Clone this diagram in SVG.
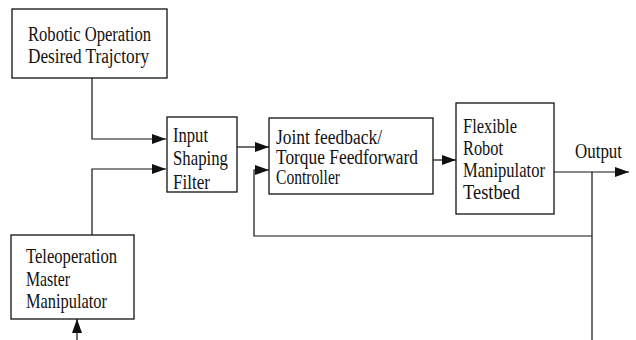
<svg xmlns="http://www.w3.org/2000/svg" width="636" height="340" viewBox="0 0 636 340">
  <style>
    .box { fill: #fff; stroke: #111; stroke-width: 1.3; }
    .wire { fill: none; stroke: #111; stroke-width: 1.2; }
    .lbl { font-family: "Liberation Serif", "DejaVu Serif", "Times New Roman", serif; font-size: 21px; fill: #111; }
    .tight { font-size: 20px; }
  </style>
  <defs>
    <marker id="arrow" viewBox="0 0 14 10" refX="14" refY="5" markerWidth="14" markerHeight="10" markerUnits="userSpaceOnUse" orient="auto">
      <path d="M0,0 L14,5 L0,10 Z" fill="#111"/>
    </marker>
  </defs>

  <rect width="636" height="340" fill="#fff"/>

  <!-- connectors -->
  <g id="connectors">
    <polyline class="wire" points="92,78 92,139 166,139" marker-end="url(#arrow)"/>
    <polyline class="wire" points="92,235 92,169 166,169" marker-end="url(#arrow)"/>
    <line class="wire" x1="237" y1="147" x2="269" y2="147" marker-end="url(#arrow)"/>
    <line class="wire" x1="433" y1="160" x2="456" y2="160" marker-end="url(#arrow)"/>
    <line class="wire" x1="554" y1="172" x2="629" y2="172" marker-end="url(#arrow)"/>
    <polyline class="wire" points="592,172 592,340"/>
    <polyline class="wire" points="592,236 254,236 254,170 269,170" marker-end="url(#arrow)"/>
    <line class="wire" x1="77" y1="340" x2="77" y2="319" marker-end="url(#arrow)"/>
  </g>

  <!-- nodes -->
  <g id="desired-trajectory">
    <rect class="box" x="12" y="9" width="155" height="69"/>
    <text class="lbl tight" x="28" y="41" textLength="123" lengthAdjust="spacingAndGlyphs">Robotic Operation</text>
    <text class="lbl tight" x="28" y="63" textLength="121" lengthAdjust="spacingAndGlyphs">Desired Trajctory</text>
  </g>

  <g id="input-shaping-filter">
    <rect class="box" x="167" y="117" width="70" height="75"/>
    <text class="lbl" x="173" y="142" textLength="35" lengthAdjust="spacingAndGlyphs">Input</text>
    <text class="lbl" x="173" y="165" textLength="55" lengthAdjust="spacingAndGlyphs">Shaping</text>
    <text class="lbl" x="173" y="189" textLength="37" lengthAdjust="spacingAndGlyphs">Filter</text>
  </g>

  <g id="controller">
    <rect class="box" x="269" y="118" width="164" height="76"/>
    <text class="lbl tight" x="276" y="144" textLength="106" lengthAdjust="spacingAndGlyphs">Joint feedback/</text>
    <text class="lbl tight" x="276" y="164" textLength="142" lengthAdjust="spacingAndGlyphs">Torque Feedforward</text>
    <text class="lbl tight" x="276" y="184" textLength="64" lengthAdjust="spacingAndGlyphs">Controller</text>
  </g>

  <g id="testbed">
    <rect class="box" x="456" y="103" width="98" height="111"/>
    <text class="lbl" x="463" y="133" textLength="54" lengthAdjust="spacingAndGlyphs">Flexible</text>
    <text class="lbl" x="463" y="155" textLength="40" lengthAdjust="spacingAndGlyphs">Robot</text>
    <text class="lbl" x="463" y="177" textLength="82" lengthAdjust="spacingAndGlyphs">Manipulator</text>
    <text class="lbl" x="463" y="199" textLength="57" lengthAdjust="spacingAndGlyphs">Testbed</text>
  </g>

  <g id="output-label">
    <text class="lbl" x="575" y="158" textLength="47" lengthAdjust="spacingAndGlyphs">Output</text>
  </g>

  <g id="master-manipulator">
    <rect class="box" x="11" y="235" width="123" height="84"/>
    <text class="lbl" x="26" y="263" textLength="91" lengthAdjust="spacingAndGlyphs">Teleoperation</text>
    <text class="lbl" x="26" y="286" textLength="44" lengthAdjust="spacingAndGlyphs">Master</text>
    <text class="lbl" x="26" y="308" textLength="81" lengthAdjust="spacingAndGlyphs">Manipulator</text>
  </g>
</svg>
